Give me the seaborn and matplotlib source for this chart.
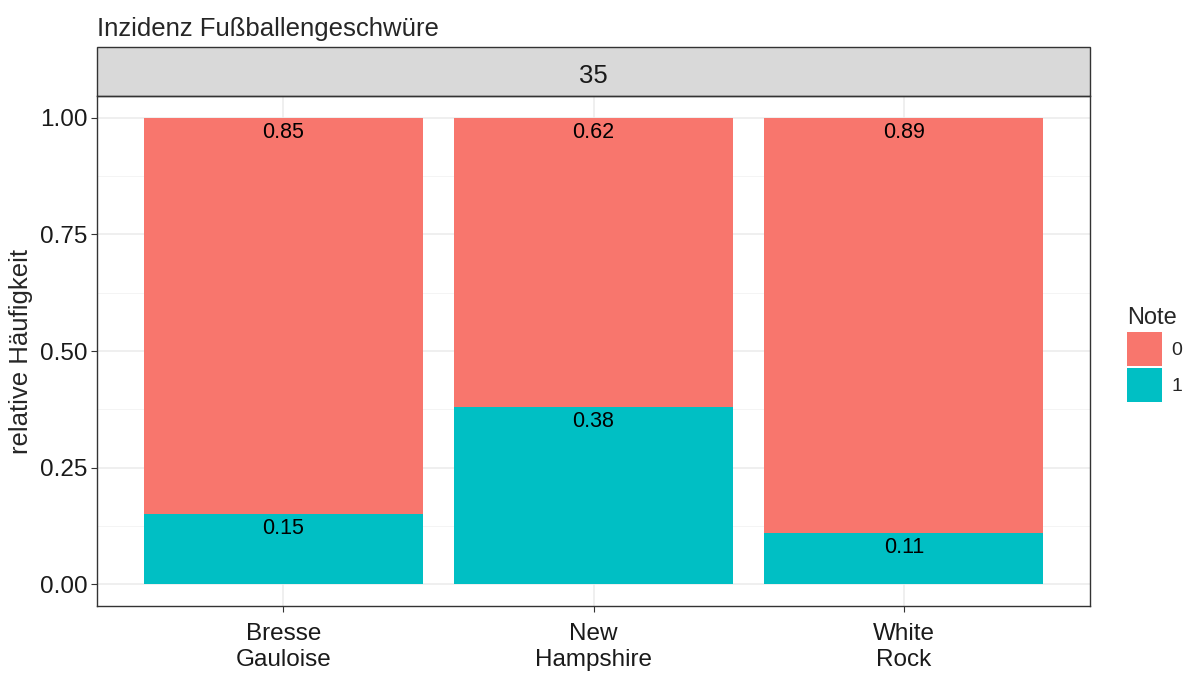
import pandas as pd
import seaborn as sns
import matplotlib.pyplot as plt
from matplotlib.patches import Rectangle, Patch

# data
rassen = ['Bresse\nGauloise', 'New\nHampshire', 'White\nRock']
anteil_0 = [0.85, 0.62, 0.89]
anteil_1 = [0.15, 0.38, 0.11]
noten = ['0', '1']
farben = ['#F8766D', '#00BFC4']

df = pd.DataFrame({'Rasse': rassen, 'n0': anteil_0, 'n1': anteil_1})
df['oben'] = df['n0'] + df['n1']

sns.set_style('white')
plt.rcParams['font.family'] = ['Liberation Sans', 'DejaVu Sans']

fig = plt.figure(figsize=(11.87, 6.73), dpi=100)
ax = fig.add_axes([97 / 1187, 1 - 606 / 673, 993 / 1187, 510 / 673])

# grid (major + minor, theme_bw style)
for y in [0, 0.25, 0.5, 0.75, 1.0]:
    ax.axhline(y, color='#EBEBEB', lw=1.1, zorder=0)
for y in [0.125, 0.375, 0.625, 0.875]:
    ax.axhline(y, color='#F2F2F2', lw=0.6, zorder=0)
for x in range(3):
    ax.axvline(x, color='#EBEBEB', lw=1.1, zorder=0)

# stacked bars: total in red, share of 1 in blue on top
sns.barplot(data=df, x='Rasse', y='oben', color=farben[0], width=0.9,
            saturation=1, linewidth=0, edgecolor='none', ax=ax, zorder=2)
sns.barplot(data=df, x='Rasse', y='n1', color=farben[1], width=0.9,
            saturation=1, linewidth=0, edgecolor='none', ax=ax, zorder=3)

for i, row in df.iterrows():
    ax.annotate(f"{row['n0']:.2f}", (i, row['oben']), xytext=(0, -10.5),
                textcoords='offset points', ha='center', va='center', fontsize=15.5,
                color='black', zorder=4)
    ax.annotate(f"{row['n1']:.2f}", (i, row['n1']), xytext=(0, -10.5),
                textcoords='offset points', ha='center', va='center', fontsize=15.5,
                color='black', zorder=4)

ax.set_xlim(-0.6, 2.6)
ax.set_ylim(-0.047, 1.047)
ax.set_yticks([0, 0.25, 0.5, 0.75, 1.0])
ax.set_yticklabels(['0.00', '0.25', '0.50', '0.75', '1.00'])
ax.set_xlabel('')
ax.set_ylabel('relative Häufigkeit', fontsize=18.5, va='center')
ax.yaxis.set_label_coords(-76 / 993, 0.5)
ax.tick_params(axis='both', labelsize=17.5, length=4, width=0.8, color='#333333',
               labelcolor='#1A1A1A', direction='out', left=True, bottom=True)
ax.tick_params(axis='y', pad=3)
ax.tick_params(axis='x', pad=8)
for lab in ax.get_xticklabels():
    lab.set_linespacing(1.25)
for sp in ax.spines.values():
    sp.set_color('#333333')
    sp.set_linewidth(1.0)

# facet strip
strip = Rectangle((0, 1), 1, 49 / 510, transform=ax.transAxes, clip_on=False,
                  facecolor='#D9D9D9', edgecolor='#333333', lw=1.0)
ax.add_patch(strip)
ax.text(0.5, 1 + 20 / 510, '35', transform=ax.transAxes, ha='center', va='center',
        fontsize=18.5, color='#1A1A1A')

fig.text(97 / 1187, 1 - 29 / 673, 'Inzidenz Fußballengeschwüre', ha='left', va='center',
         fontsize=18.5)

# legend
handles = [Patch(facecolor=c, edgecolor='none') for c in farben]
leg = fig.legend(handles, noten, title='Note', loc='upper left',
                 bbox_to_anchor=(1119 / 1187, 1 - 299 / 673), frameon=False,
                 fontsize=14, title_fontsize=17, handlelength=1.8, handleheight=2.3,
                 labelspacing=0.15, handletextpad=0.5, borderaxespad=0)
leg._legend_box.align = 'left'

fig.savefig('out.png', dpi=100)
